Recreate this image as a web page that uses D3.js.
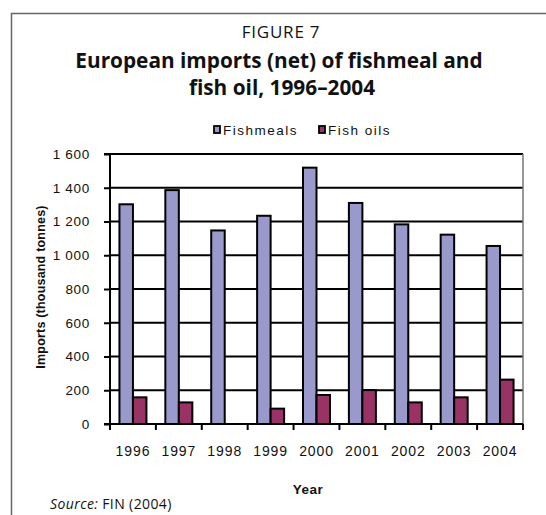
<!DOCTYPE html>
<html>
<head>
<meta charset="utf-8">
<script src="https://cdn.jsdelivr.net/npm/d3@7/dist/d3.min.js"></script>
<style>
  html, body { margin: 0; padding: 0; background: #fff; }
  svg { display: block; }
</style>
</head>
<body>
<script>
const years = ["1996","1997","1998","1999","2000","2001","2002","2003","2004"];
const seriesNames = ["Fishmeals", "Fish oils"];
const fishmeals = [1302, 1386, 1147, 1234, 1519, 1310, 1183, 1122, 1055];
const fishOils = [158, 128, 0, 91, 172, 201, 128, 158, 263];
const yTicks = [0, 200, 400, 600, 800, 1000, 1200, 1400, 1600];
const colors = ["#9999cc", "#993366"];

(function () {
const W = 546, H = 515;
const svg = d3.select("body").append("svg").attr("width", W).attr("height", H);

// outer frame (left and top only visible)
svg.append("path")
  .attr("d", `M11.5,${H} L11.5,13.5 L${W},13.5`)
  .attr("fill", "none").attr("stroke", "#666").attr("stroke-width", 1.5);

// titles
svg.append("text").attr("x", 281).attr("y", 38).attr("text-anchor", "middle")
  .style("font-family", "'Open Sans'").style("font-size", "17px").style("letter-spacing", "0.8px").attr("fill", "#111")
  .text("FIGURE 7");
svg.append("text").attr("x", 279).attr("y", 68).attr("text-anchor", "middle")
  .style("font-family", "'Open Sans'").style("font-weight", "bold").style("font-size", "20.8px").attr("fill", "#111")
  .text("European imports (net) of fishmeal and");
svg.append("text").attr("x", 282).attr("y", 95).attr("text-anchor", "middle")
  .style("font-family", "'Open Sans'").style("font-weight", "bold").style("font-size", "20.8px").attr("fill", "#111")
  .text("fish oil, 1996–2004");

const pLeft = 110, pRight = 523, pTop = 154, pBottom = 424;
const x = d3.scaleBand().domain(years).range([pLeft, pRight]).paddingInner(0).paddingOuter(0);
const xs = d3.scaleBand().domain(seriesNames).range([0, x.bandwidth()]).paddingInner(0).paddingOuter(0.7);
const y = d3.scaleLinear().domain([0, 1600]).range([pBottom, pTop]);

const fmt = v => d3.format(",")(v).replace(",", " ");

// gridlines
svg.append("g").selectAll("line").data(yTicks.filter(d => d > 0)).join("line")
  .attr("x1", pLeft).attr("x2", pRight)
  .attr("y1", d => y(d)).attr("y2", d => y(d))
  .attr("stroke", "#000").attr("stroke-width", 2);

// right border of plot area
svg.append("line").attr("x1", pRight).attr("x2", pRight).attr("y1", pTop).attr("y2", pBottom)
  .attr("stroke", "#777").attr("stroke-width", 1.5);

// bars
const data = years.map((yr, i) => ({ yr, vals: [fishmeals[i], fishOils[i]] }));
const groups = svg.append("g").selectAll("g").data(data).join("g")
  .attr("transform", d => `translate(${x(d.yr)},0)`);
groups.selectAll("rect").data(d => d.vals.map((v, j) => ({ v, s: seriesNames[j], j })).filter(e => e.v > 0))
  .join("rect")
  .attr("x", e => xs(e.s)).attr("width", xs.bandwidth())
  .attr("y", e => y(e.v)).attr("height", e => y(0) - y(e.v))
  .attr("fill", e => colors[e.j]).attr("stroke", "#000").attr("stroke-width", 2);

// y axis
const yAxis = svg.append("g").attr("transform", `translate(${pLeft},0)`)
  .call(d3.axisLeft(y).tickValues(yTicks).tickFormat(fmt).tickSize(6).tickPadding(14));
yAxis.select(".domain").attr("stroke", "#000").attr("stroke-width", 2).attr("d", `M-6,${pTop}H0V${pBottom}H-6`);
yAxis.selectAll(".tick line").attr("stroke", "#000").attr("stroke-width", 2);
yAxis.selectAll("text").style("font-family", "'Liberation Sans', Arial").style("font-size", "13.5px")
  .style("letter-spacing", "0.7px").attr("fill", "#111");

// x axis
const xAxis = svg.append("g").attr("transform", `translate(0,${pBottom})`)
  .call(d3.axisBottom(x).tickSize(0).tickPadding(22));
xAxis.select(".domain").attr("stroke", "#000").attr("stroke-width", 2).attr("d", `M${pLeft},0H${pRight}`);
xAxis.selectAll("text").style("font-family", "'Liberation Sans', Arial").style("font-size", "14px")
  .style("letter-spacing", "0.9px").attr("fill", "#111");
svg.append("g").selectAll("line").data(years.map(d => x(d)).concat([pRight])).join("line")
  .attr("x1", d => d).attr("x2", d => d).attr("y1", pBottom).attr("y2", pBottom + 6)
  .attr("stroke", "#000").attr("stroke-width", 2);

// axis titles
svg.append("text").attr("transform", `translate(45,287) rotate(-90)`)
  .attr("text-anchor", "middle")
  .style("font-family", "'Liberation Sans', Arial").style("font-weight", "bold").style("font-size", "12.5px")
  .style("letter-spacing", "0.2px").attr("fill", "#111")
  .text("Imports (thousand tonnes)");
svg.append("text").attr("x", 308).attr("y", 494).attr("text-anchor", "middle")
  .style("font-family", "'Liberation Sans', Arial").style("font-weight", "bold").style("font-size", "13.5px")
  .style("letter-spacing", "0.5px").attr("fill", "#111")
  .text("Year");

// legend
const legend = svg.append("g");
const legendX = [214, 319];
seriesNames.forEach((s, i) => {
  legend.append("rect").attr("x", legendX[i]).attr("y", 126).attr("width", 6).attr("height", 7)
    .attr("fill", colors[i]).attr("stroke", "#000").attr("stroke-width", 1.8);
  legend.append("text").attr("x", legendX[i] + 9).attr("y", 134.5)
    .style("font-family", "'Liberation Sans', Arial").style("font-size", "13.5px")
    .style("letter-spacing", "1.5px").attr("fill", "#111").text(s);
});

// source
const src = svg.append("text").attr("x", 50).attr("y", 509)
  .style("font-family", "'Open Sans'").style("font-size", "14px").style("letter-spacing", "0.4px").attr("fill", "#111");
src.append("tspan").style("font-style", "italic").text("Source:");
src.append("tspan").text(" FIN (2004)");
})();
</script>
</body>
</html>
